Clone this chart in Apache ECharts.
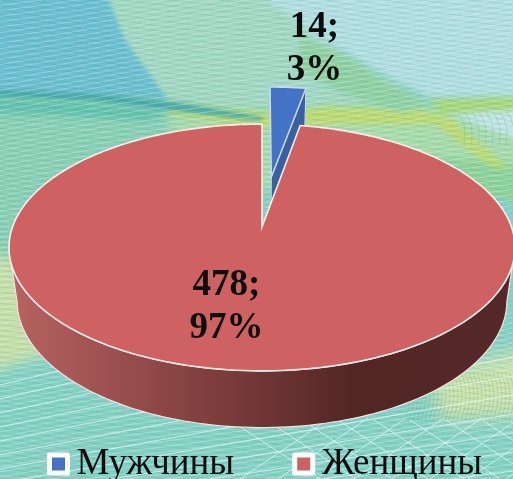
<!DOCTYPE html>
<html><head><meta charset="utf-8">
<style>html,body{margin:0;padding:0;background:#8fd3c8}#c{width:513px;height:479px}</style>
<script src="https://cdn.jsdelivr.net/npm/echarts@6/dist/echarts.min.js"></script>
</head><body><div id="c"></div>
<script>
const categories = ['Мужчины', 'Женщины'];
const values = [14, 478];
const colors = ['#4472c4', '#ce6262'];
const sideColors = ['#39609f', '#8a4545'];
const labelAnchors = [[314.5, 49], [226.5, 307]];

const total = values.reduce((a, b) => a + b, 0);
// perspective view of the pie disc
const VIEW = {cx: 262, cy: 227, a: 249.5, b: 120, p: 0.166, explode: 0.448};
function project(u, v) {
  const w = 1 + VIEW.p * v;
  return [VIEW.cx + VIEW.a * u / w, VIEW.cy - VIEW.b * v / w];
}
function lower(pt) { // same point on the lower rim of the disc
  return [262 + (pt[0] - 262) * 0.968, 300.5 + (pt[1] - 247.5) * 1.03];
}
function arc(a0, a1, ex, ey) {
  const n = Math.max(2, Math.ceil(Math.abs(a1 - a0) / 1.5));
  const out = [];
  for (let i = 0; i <= n; i++) {
    const t = (a0 + (a1 - a0) * i / n) * Math.PI / 180;
    out.push(project(Math.sin(t) + ex, Math.cos(t) + ey));
  }
  return out;
}

function makeBackground() {
  const cv = document.createElement('canvas');
  cv.width = 513; cv.height = 479;
  const g = cv.getContext('2d');
  g.fillStyle = '#84d1c4'; g.fillRect(0, 0, 513, 479);
  function blob(pts, col, blur) {
    g.save(); g.filter = 'blur(' + blur + 'px)'; g.fillStyle = col; g.beginPath();
    pts.forEach((p, i) => i ? g.lineTo(p[0], p[1]) : g.moveTo(p[0], p[1]));
    g.closePath(); g.fill(); g.restore();
  }
  blob([[-20,-20],[250,-20],[340,50],[430,105],[180,110],[-20,100]], '#a3d8c2', 3);
  blob([[-20,-20],[100,-20],[125,40],[168,100],[-20,92]], '#6cbfd0', 2);
  blob([[240,-20],[540,-20],[540,100],[430,98],[385,75],[320,38]], '#b4dfe0', 3);
  blob([[-20,96],[175,106],[262,125],[262,250],[-20,300]], '#88d0b4', 8);
  blob([[170,108],[540,105],[540,190],[170,190]], '#a8dcaa', 6);
  blob([[-20,250],[15,260],[55,352],[-20,375]], '#c8e0a8', 7);
  blob([[425,375],[540,345],[540,415],[445,420]], '#d0e4ac', 10);
  blob([[448,112],[540,104],[540,146],[495,132]], '#c4e6e2', 3);
  blob([[430,155],[540,168],[540,210],[470,190]], '#8ed29a', 3);
  blob([[165,106],[262,113],[330,107],[420,110],[450,118],[510,170],[490,165],[435,124],[330,124],[262,128],[165,112]], '#bfda6c', 3);
  blob([[430,100],[540,96],[540,108],[440,114]], '#a8d874', 3);
  blob([[-20,89],[100,94],[180,103],[262,117],[262,121],[170,110],[90,101],[-20,97]], '#45a8a8', 2);
  blob([[-20,98],[90,103],[170,112],[150,120],[-20,112]], '#62c2ac', 3);
  blob([[300,36],[350,58],[385,82],[430,104],[400,112],[340,92],[300,70]], '#8fd0a0', 3);
  // woven mesh: two crossing families of fine curves
  for (let k = -40; k < 130; k++) {
    g.lineWidth = 1.2;
    g.strokeStyle = 'rgba(232,250,255,.30)';
    g.beginPath();
    for (let x = 0; x <= 513; x += 8) {
      const y = k * 5.2 + 2 * Math.sin(x / 70 + k / 9) - x * 0.16;
      x ? g.lineTo(x, y) : g.moveTo(x, y);
    }
    g.stroke();
    g.strokeStyle = 'rgba(30,120,135,.13)';
    g.beginPath();
    for (let x = 0; x <= 513; x += 8) {
      const y = k * 5.2 - 40 + x * 0.14 + 2 * Math.sin(x / 55 - k / 7);
      x ? g.lineTo(x, y) : g.moveTo(x, y);
    }
    g.stroke();
  }
  // curved ribs in the top-right pale area and the lower-right yellow band
  g.lineWidth = 0.8; g.strokeStyle = 'rgba(70,160,200,.35)';
  for (let k = 0; k < 9; k++) {
    g.beginPath(); g.moveTo(458 + k * 7, 112); g.quadraticCurveTo(468 + k * 7, 125, 464 + k * 7, 145); g.stroke();
  }
  g.strokeStyle = 'rgba(90,150,110,.3)';
  for (let k = 0; k < 28; k++) {
    g.beginPath(); g.moveTo(405 + k * 4, 372); g.quadraticCurveTo(415 + k * 4, 395, 405 + k * 4, 420); g.stroke();
  }
  // wide white net in the lower part
  g.save();
  g.beginPath(); g.rect(0, 350, 513, 129); g.clip();
  g.lineWidth = 1;
  g.strokeStyle = 'rgba(238,252,255,.68)';
  for (let k = 0; k < 15; k++) {
    g.beginPath(); g.moveTo(0, 385 + k * 14); g.lineTo(513, 262 + k * 19); g.stroke();
    g.beginPath(); g.moveTo(240 + k * 38, 479); g.lineTo(330 + k * 38, 418); g.stroke();
    g.beginPath(); g.moveTo(230 + k * 36, 420); g.lineTo(320 + k * 36, 479); g.stroke();
  }
  g.restore();
  return cv;
}

function renderSlice(index) {
  return function (params, api) {
    const v = api.value(0);
    const before = values.slice(0, index).reduce((a, b) => a + b, 0);
    const a0 = before / total * 360, a1 = (before + v) / total * 360;
    const children = [];
    const stroke = index === 0 ? '#c9d8f0' : '#fbeeee';
    if (index === 0) {
      const mid = (a0 + a1) / 2 * Math.PI / 180;
      const ex = VIEW.explode * Math.sin(mid), ey = VIEW.explode * Math.cos(mid);
      const apex = project(ex, ey);
      const rim = arc(a0, a1, ex, ey);
      const topFace = [apex].concat(rim);
      const sidePts = [apex, rim[rim.length - 1], lower(rim[rim.length - 1]), lower(apex)];
      children.push({type: 'polygon', shape: {points: sidePts}, style: {fill: sideColors[0], stroke: stroke, lineWidth: 1}});
      children.push({type: 'polygon', shape: {points: topFace}, style: {fill: colors[0], stroke: stroke, lineWidth: 1.5}});
    } else {
      const apex = project(0, 0);
      const rim = arc(a0, a1, 0, 0);
      const front = arc(100, 260, 0, 0);
      const sidePts = front.concat(front.map(lower).reverse());
      children.push({type: 'polygon', shape: {points: sidePts}, style: {
        fill: new echarts.graphic.LinearGradient(0, 0, 1, 0, [
          {offset: 0, color: '#b86462'}, {offset: 0.33, color: '#8a4444'},
          {offset: 0.68, color: '#532626'}, {offset: 1, color: '#552829'}]),
        stroke: '#f3e4e0', lineWidth: 1.2}});
      children.push({type: 'polygon', shape: {points: [apex].concat(rim)}, style: {fill: colors[1], stroke: stroke, lineWidth: 1.6}});
    }
    children.push({type: 'text', x: labelAnchors[index][0], y: labelAnchors[index][1], style: {
      text: v + ';\n' + Math.round(v / total * 100) + '%',
      font: 'bold 37px "Liberation Serif"', lineHeight: 43, fill: '#0d0d0d',
      textAlign: 'center', textVerticalAlign: 'middle'}});
    return {type: 'group', children: children};
  };
}

const chart = echarts.init(document.getElementById('c'), null, {renderer: 'canvas'});
chart.setOption({
  animation: false,
  graphic: [{type: 'image', z: -10, silent: true, x: 0, y: 0,
    style: {image: makeBackground(), x: 0, y: 0, width: 513, height: 479}}],
  legend: {
    data: categories, left: 47, top: 441, itemWidth: 18, itemHeight: 18, itemGap: 58,
    icon: 'rect', padding: 0,
    itemStyle: {borderColor: '#ffffff', borderWidth: 5, borderJoin: 'round'},
    textStyle: {fontFamily: 'Liberation Serif', fontSize: 37, color: '#0d0d0d', padding: [6, 0, 0, 4], lineHeight: 40}
  },
  series: categories.map((name, i) => ({
    type: 'custom', name: name, coordinateSystem: 'none', silent: true,
    itemStyle: {color: colors[i]},
    data: [[values[i]]],
    renderItem: renderSlice(i)
  }))
});
</script></body></html>
